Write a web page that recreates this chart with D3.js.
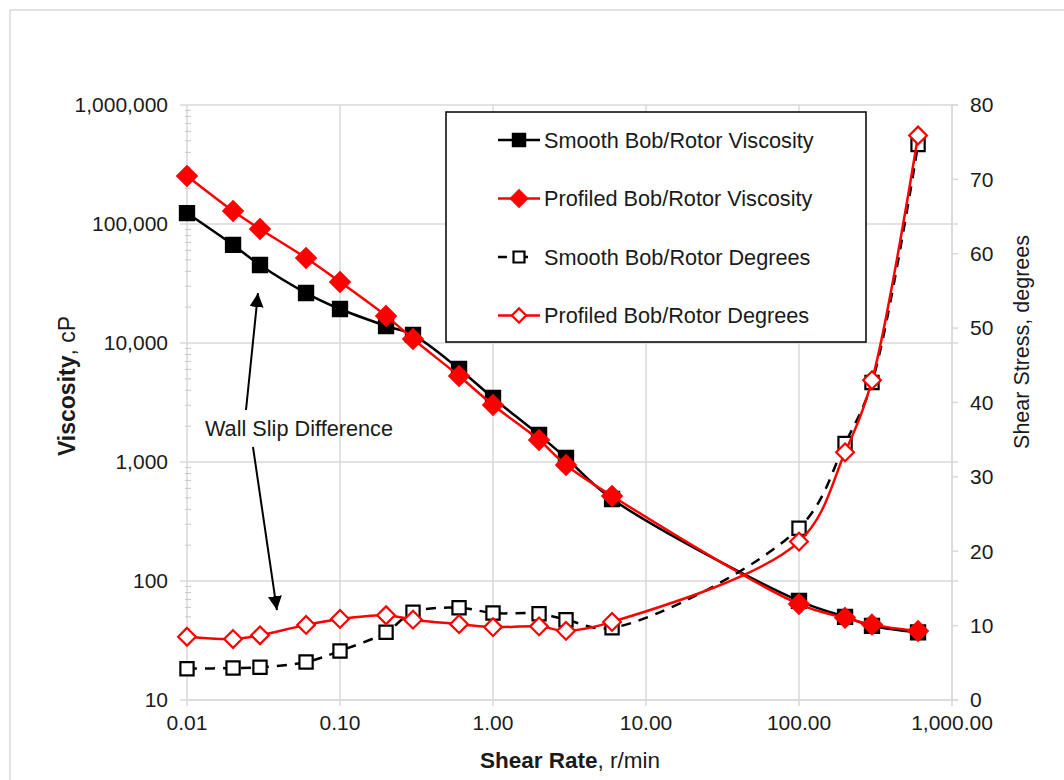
<!DOCTYPE html>
<html><head><meta charset="utf-8">
<script src="https://cdn.jsdelivr.net/npm/d3@7"></script>
<style>
html,body{margin:0;padding:0;background:#fff;}
text{font-family:"Liberation Sans",Arial,sans-serif;fill:#1a1a1a;}
</style></head>
<body><svg id="c" width="1064" height="780"></svg>
<script>
// ---- data ----
const shearRate = [0.01,0.02,0.03,0.06,0.1,0.2,0.3,0.6,1,2,3,6,100,200,300,600];
const smoothVisc = [123600,66700,45200,26300,19300,13900,11700,6050,3450,1690,1080,489,68,50,42,37];
const profiledVisc = [253000,128600,90800,51800,32600,16900,10800,5280,3010,1530,944,518,64,49,43,38];
const smoothDeg = [4.2,4.3,4.4,5.1,6.6,9.1,11.8,12.4,11.7,11.6,10.8,9.7,23.1,34.5,42.7,74.7];
const profiledDeg = [8.5,8.2,8.7,10.1,10.9,11.4,10.8,10.2,9.8,9.9,9.3,10.5,21.3,33.3,43.0,75.9];
const xTicks = [0.01,0.1,1,10,100,1000];
const xTickLabels = ["0.01","0.10","1.00","10.00","100.00","1,000.00"];
const yTicks = [10,100,1000,10000,100000,1000000];
const yTickLabels = ["10","100","1,000","10,000","100,000","1,000,000"];
const y2Ticks = [0,10,20,30,40,50,60,70,80];
const seriesNames = ["Smooth Bob/Rotor Viscosity","Profiled Bob/Rotor Viscosity","Smooth Bob/Rotor Degrees","Profiled Bob/Rotor Degrees"];
const annotationText = "Wall Slip Difference";
const annotationAt = [0.0131, 1930];
const arrowUp = [[0.0243,2735],[0.0291,26300]];
const arrowDown = [[0.027,1337],[0.0387,57]];

// ---- layout ----
const svg = d3.select("#c");
const L=187, R=952, T=105, B=700;
const x = d3.scaleLog().domain([0.01,1000]).range([L,R]);
const y = d3.scaleLog().domain([10,1e6]).range([B,T]);
const y2 = d3.scaleLinear().domain([0,80]).range([B,T]);
const grid="#d9d9d9";

// outer frame
svg.append("line").attr("x1",10).attr("y1",10).attr("x2",1064).attr("y2",10).attr("stroke",grid).attr("stroke-width",1.5);
svg.append("line").attr("x1",10).attr("y1",10).attr("x2",10).attr("y2",780).attr("stroke",grid).attr("stroke-width",1.5);

// gridlines
svg.append("g").selectAll("line").data(yTicks).join("line")
  .attr("x1",L-7).attr("x2",R+6).attr("y1",d=>y(d)).attr("y2",d=>y(d))
  .attr("stroke",grid).attr("stroke-width",1.5);
svg.append("g").selectAll("line").data(xTicks.slice(1)).join("line")
  .attr("x1",d=>x(d)).attr("x2",d=>x(d)).attr("y1",T).attr("y2",B)
  .attr("stroke",grid).attr("stroke-width",1.5);

// left axis
const ax = svg.append("g");
ax.append("line").attr("x1",L).attr("x2",L).attr("y1",T).attr("y2",B).attr("stroke",grid).attr("stroke-width",1.5);
const minors=[];
for(let e=1;e<6;e++){for(let m=2;m<10;m++)minors.push(m*Math.pow(10,e));}
ax.selectAll("line.mn").data(minors).join("line").attr("class","mn")
  .attr("x1",L-2).attr("x2",L+4).attr("y1",d=>y(d)).attr("y2",d=>y(d)).attr("stroke","#c8c8c8").attr("stroke-width",1);
ax.selectAll("text").data(yTicks).join("text")
  .attr("x",L-19).attr("y",d=>y(d)).attr("dy","0.35em").attr("text-anchor","end")
  .style("font-size","21px").text((d,i)=>yTickLabels[i]);

// right axis
const ar = svg.append("g");
ar.append("line").attr("x1",R).attr("x2",R).attr("y1",T).attr("y2",B).attr("stroke",grid).attr("stroke-width",1.5);
ar.selectAll("line.t").data(y2Ticks).join("line").attr("class","t")
  .attr("x1",R).attr("x2",R+6).attr("y1",d=>y2(d)).attr("y2",d=>y2(d)).attr("stroke",grid).attr("stroke-width",1.5);
ar.selectAll("text").data(y2Ticks).join("text")
  .attr("x",R+18).attr("y",d=>y2(d)).attr("dy","0.35em")
  .style("font-size","21px").text(d=>d);

// bottom axis
const ab = svg.append("g");
ab.append("line").attr("x1",L).attr("x2",R).attr("y1",B).attr("y2",B).attr("stroke",grid).attr("stroke-width",1.5);
ab.selectAll("line.t").data(xTicks).join("line").attr("class","t")
  .attr("x1",d=>x(d)).attr("x2",d=>x(d)).attr("y1",B).attr("y2",B+6).attr("stroke",grid).attr("stroke-width",1.5);
ab.selectAll("text").data(xTicks).join("text")
  .attr("x",d=>x(d)).attr("y",B+23).attr("dy","0.35em").attr("text-anchor","middle")
  .style("font-size","21px").text((d,i)=>xTickLabels[i]);

// axis titles
const xt = svg.append("text").attr("x",570).attr("y",760).attr("dy","0.35em").attr("text-anchor","middle").style("font-size","22.5px");
xt.append("tspan").style("font-weight","bold").text("Shear Rate");
xt.append("tspan").text(", r/min");
const yt = svg.append("text").attr("transform","translate(67,386) rotate(-90)").attr("dy","0.35em").attr("text-anchor","middle").style("font-size","23px");
yt.append("tspan").style("font-weight","bold").text("Viscosity");
yt.append("tspan").text(", cP");
svg.append("text").attr("transform","translate(1021,342) rotate(-90)").attr("dy","0.35em").attr("text-anchor","middle").style("font-size","21.5px").text("Shear Stress, degrees");

// series
const curve = d3.curveCatmullRom.alpha(0.5);
const lineV = d3.line().x(d=>x(d[0])).y(d=>y(d[1])).curve(curve);
const lineD = d3.line().x(d=>x(d[0])).y(d=>y2(d[1])).curve(curve);
const zip = arr => shearRate.map((s,i)=>[s,arr[i]]);
const sq = d3.symbol().type(d3.symbolSquare);
const dm = d3.symbol().type(d3.symbolDiamond2);

function drawSeries(data, line, yy, color, dashed, marker, size, filled){
  const g = svg.append("g");
  g.append("path").attr("d",line(data)).attr("fill","none").attr("stroke",color)
   .attr("stroke-width",2.5).attr("stroke-dasharray",dashed?"10,8":null);
  g.selectAll("path.m").data(data).join("path").attr("class","m")
   .attr("transform",d=>`translate(${x(d[0])},${yy(d[1])})`)
   .attr("d",marker.size(size)())
   .attr("fill",filled?color:"#fff").attr("stroke",color).attr("stroke-width",2.2);
}
drawSeries(zip(smoothVisc), lineV, y, "#000", false, sq, 200, true);
drawSeries(zip(profiledVisc), lineV, y, "#ff0000", false, dm, 240, true);
drawSeries(zip(smoothDeg), lineD, y2, "#000", true, sq, 175, false);
drawSeries(zip(profiledDeg), lineD, y2, "#ff0000", false, dm, 200, false);

// legend
const lg = svg.append("g");
lg.append("rect").attr("x",446).attr("y",112).attr("width",420).attr("height",230).attr("fill","#fff").attr("stroke","#000").attr("stroke-width",1.5);
const legStyle = [
  {c:"#000",dash:false,m:sq,s:150,f:true},
  {c:"#ff0000",dash:false,m:dm,s:170,f:true},
  {c:"#000",dash:true,m:sq,s:120,f:false},
  {c:"#ff0000",dash:false,m:dm,s:130,f:false}
];
seriesNames.forEach((n,i)=>{
  const cy = 140 + i*58.5, st = legStyle[i];
  if(st.dash){
    lg.append("line").attr("x1",498).attr("x2",507).attr("y1",cy).attr("y2",cy).attr("stroke",st.c).attr("stroke-width",2.5);
    lg.append("line").attr("x1",519).attr("x2",528).attr("y1",cy).attr("y2",cy).attr("stroke",st.c).attr("stroke-width",2.5);
  } else {
    lg.append("line").attr("x1",498).attr("x2",540).attr("y1",cy).attr("y2",cy).attr("stroke",st.c).attr("stroke-width",2.5);
  }
  lg.append("path").attr("transform",`translate(519,${cy})`).attr("d",st.m.size(st.s)())
    .attr("fill",st.f?st.c:"#fff").attr("stroke",st.c).attr("stroke-width",2.2);
  lg.append("text").attr("x",544).attr("y",cy).attr("dy","0.35em").style("font-size","21.7px").text(n);
});

// annotation
svg.append("defs").append("marker").attr("id","ah").attr("viewBox","0 0 10 10").attr("refX",10).attr("refY",5)
  .attr("markerWidth",7).attr("markerHeight",7).attr("markerUnits","strokeWidth").attr("orient","auto")
  .append("path").attr("d","M0,0 L10,5 L0,10 z").attr("fill","#000");
[arrowUp,arrowDown].forEach(a=>{
  svg.append("line").attr("x1",x(a[0][0])).attr("y1",y(a[0][1])).attr("x2",x(a[1][0])).attr("y2",y(a[1][1]))
    .attr("stroke","#000").attr("stroke-width",2).attr("marker-end","url(#ah)");
});
svg.append("text").attr("x",x(annotationAt[0])).attr("y",y(annotationAt[1])).attr("dy","0.35em")
  .style("font-size","21.7px").text(annotationText);
</script></body></html>
